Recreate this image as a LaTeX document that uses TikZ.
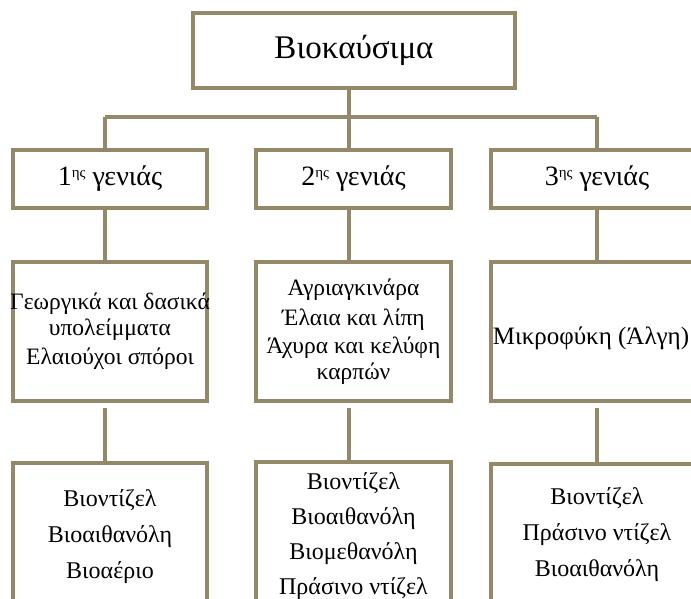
\documentclass[tikz,border=0pt]{standalone}
\usepackage{fontspec}
\setmainfont{Liberation Serif}
\usetikzlibrary{shadows}
\definecolor{bord}{RGB}{147,137,104}
\newcommand{\supr}[1]{\raisebox{8pt}{\fontsize{15}{15}\selectfont #1}}
\begin{document}
\begin{tikzpicture}[x=1pt,y=-1pt,
  box/.style={draw=bord, line width=4pt, fill=white, inner sep=0pt, align=center,
    drop shadow={shadow xshift=1.5pt, shadow yshift=-1.5pt, opacity=0.18, fill=black}},
  conn/.style={draw=bord, line width=4pt},
  titletext/.style={font=\fontsize{33}{38}\selectfont},
  gentext/.style={font=\fontsize{28}{32}\selectfont},
  midtext/.style={font=\fontsize{23.5}{25.5}\selectfont},
  bodytext/.style={font=\fontsize{24}{27}\selectfont}]
\useasboundingbox (0,0) rectangle (691,598);
\clip (0,0) rectangle (691,598);
\fill[white] (0,0) rectangle (691,598);
% columns and rows of the connectors
\coordinate (c1) at (105,0);
\coordinate (c2) at (349,0);
\coordinate (c3) at (597,0);
\coordinate (bar) at (0,117);
\coordinate (low) at (0,408);
% boxes
\node[box, titletext, minimum width=322, minimum height=75] (top) at (354,50.5) {Βιοκαύσιμα};
\node[box, gentext, minimum width=194, minimum height=58] (g1) at (110,179) {1\supr{ης} γενιάς};
\node[box, gentext, minimum width=195, minimum height=58] (g2) at (353.5,179) {2\supr{ης} γενιάς};
\node[box, minimum width=229, minimum height=58] (g3) at (605.5,179) {};
\node[gentext] (g3t) at (597,179) {3\supr{ης} γενιάς};
\node[box, midtext, minimum width=194, minimum height=139] (m1) at (110,331.5)
  {\makebox[180pt][c]{Γεωργικά και δασικά}\\υπολείμματα\\[4pt]Ελαιούχοι σπόροι};
\node[box, midtext, minimum width=195, minimum height=139] (m2) at (353.5,331.5)
  {Αγριαγκινάρα\\[4pt]Έλαια και λίπη\\[3pt]Άχυρα και κελύφη\\καρπών};
\node[box, minimum width=229, minimum height=139] (m3) at (605.5,331.5) {};
\node[font=\fontsize{25}{28}\selectfont] (m3t) at (591,338) {Μικροφύκη (Άλγη)};
\node[box, bodytext, minimum width=194, minimum height=148] (b1) at (110,537)
  {Βιοντίζελ\\[9pt]Βιοαιθανόλη\\[9pt]Βιοαέριο};
\node[box, bodytext, minimum width=195, minimum height=148] (b2) at (353.5,536)
  {Βιοντίζελ\\[8pt]Βιοαιθανόλη\\[8pt]Βιομεθανόλη\\[8pt]Πράσινο ντίζελ};
\node[box, minimum width=229, minimum height=148] (b3) at (605.5,538) {};
\node[bodytext, align=center] (b3t) at (597,535)
  {Βιοντίζελ\\[9pt]Πράσινο ντίζελ\\[9pt]Βιοαιθανόλη};
% connectors
\draw[conn] (c2 |- top.south) -- (c2 |- bar);
\draw[conn] (c1 |- bar) -- (c3 |- bar);
\draw[conn] (c1 |- bar) -- (c1 |- g1.north);
\draw[conn] (c2 |- bar) -- (c2 |- g2.north);
\draw[conn] (c3 |- bar) -- (c3 |- g3.north);
\draw[conn] (c1 |- g1.south) -- (c1 |- m1.north);
\draw[conn] (c2 |- g2.south) -- (c2 |- m2.north);
\draw[conn] (c3 |- g3.south) -- (c3 |- m3.north);
\draw[conn] (c1 |- low) -- (c1 |- b1.north);
\draw[conn] (c2 |- low) -- (c2 |- b2.north);
\draw[conn] (c3 |- low) -- (c3 |- b3.north);
\end{tikzpicture}
\end{document}
